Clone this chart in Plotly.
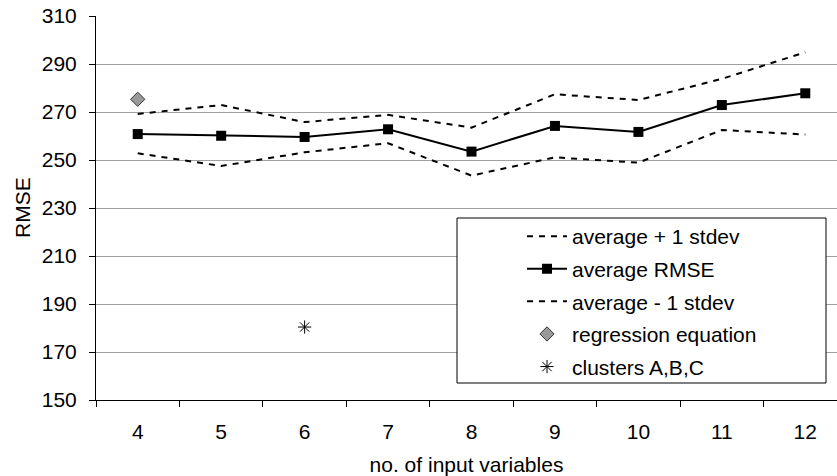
import plotly.graph_objects as go

n_vars = [4, 5, 6, 7, 8, 9, 10, 11, 12]
avg_plus = [269.2, 272.9, 265.8, 268.8, 263.5, 277.4, 275.0, 283.8, 294.9]
avg_rmse = [260.8, 260.1, 259.6, 262.8, 253.5, 264.2, 261.7, 272.9, 277.8]
avg_minus = [252.8, 247.5, 253.2, 257.0, 243.5, 251.1, 248.9, 262.5, 260.6]
reg_x = [4]
reg_y = [275.3]
clu_x = [6]
clu_y = [180.4]
y_ticks = [150, 170, 190, 210, 230, 250, 270, 290, 310]

FONT = "Arial, Liberation Sans, sans-serif"

fig = go.Figure()
fig.add_trace(go.Scatter(x=n_vars, y=avg_plus, mode="lines", name="average + 1 stdev",
                         legendgroup="a", line=dict(color="black", width=2, dash="6px,6px")))
fig.add_trace(go.Scatter(x=n_vars, y=avg_rmse, mode="lines+markers", name="average RMSE",
                         legendgroup="b", line=dict(color="black", width=2),
                         marker=dict(symbol="square", size=10, color="black")))
fig.add_trace(go.Scatter(x=n_vars, y=avg_minus, mode="lines", name="average - 1 stdev",
                         legendgroup="c", line=dict(color="black", width=2, dash="6px,6px")))
fig.add_trace(go.Scatter(x=reg_x, y=reg_y, mode="markers", name="regression equation",
                         legendgroup="d",
                         marker=dict(symbol="diamond", size=11, color="#999999",
                                     line=dict(color="#333333", width=1))))
fig.add_trace(go.Scatter(x=clu_x, y=clu_y, mode="markers", name="clusters A,B,C",
                         legendgroup="e",
                         marker=dict(symbol="asterisk-open", size=11, color="black",
                                     line=dict(color="black", width=1))))

OFF = 0  # page offset of the figure (body margin removed below)
W, H = 837, 476
L, T, R, B = 96, 16, 0, 76
pw = W - L - R
ph = H - T - B

def px_x(p):
    return (p - OFF - L) / pw

def px_y(p):
    return (H - B - (p - OFF)) / ph

fig.add_shape(type="rect", xref="paper", yref="paper",
              x0=px_x(457), x1=px_x(826), y0=px_y(383), y1=px_y(218),
              line=dict(color="black", width=1), fillcolor="white", layer="above")

fig.add_annotation(text="RMSE", xref="paper", yref="paper",
                   x=px_x(22), y=px_y(208), xanchor="center", yanchor="middle",
                   textangle=-90, showarrow=False,
                   font=dict(family=FONT, size=21, color="black"))

fig.update_layout(
    width=W, height=H,
    margin=dict(l=L, r=R, t=T, b=B, autoexpand=False),
    paper_bgcolor="white", plot_bgcolor="white",
    font=dict(family=FONT, size=21, color="black"),
    showlegend=True,
    legend=dict(x=px_x(522), y=px_y(216), xanchor="left", yanchor="top",
                bgcolor="rgba(0,0,0,0)", borderwidth=0,
                traceorder="grouped", tracegroupgap=2.3, itemwidth=40,
                font=dict(family=FONT, size=21, color="black")),
    xaxis=dict(range=[3.5, 12.38], tickvals=n_vars, ticktext=[str(v) for v in n_vars],
               ticks="outside", ticklen=0, ticklabelstandoff=13, automargin=False,
               ticklabeloverflow="allow",
               showgrid=False, showline=True, linecolor="black", linewidth=1,
               zeroline=False,
               minor=dict(ticks="outside", tick0=3.5, dtick=1, ticklen=6,
                          tickcolor="black", showgrid=False),
               title=dict(text="no. of input variables", standoff=17,
                          font=dict(family=FONT, size=21))),
    yaxis=dict(range=[150, 310], tickvals=y_ticks, ticks="outside", ticklen=6,
               tickcolor="black", ticklabelstandoff=8, automargin=False,
               ticklabeloverflow="allow",
               showgrid=True, gridcolor="#a0a0a0", gridwidth=1,
               showline=True, linecolor="black", linewidth=1, zeroline=False),
)

fig.write_html("out.html", config={"displayModeBar": False},
               post_script="document.body.style.margin='0';")
